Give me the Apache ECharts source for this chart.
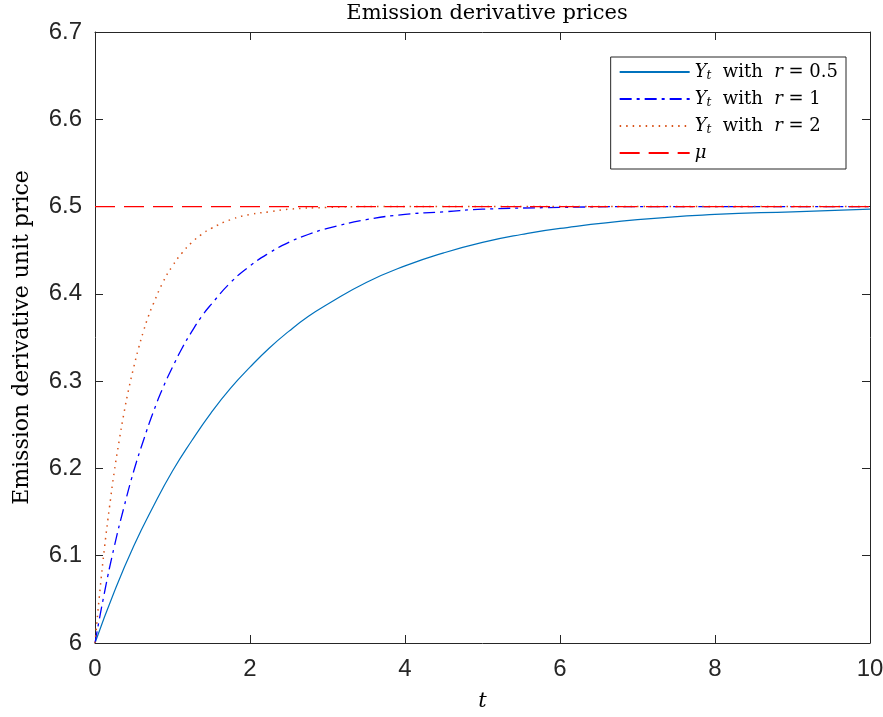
<!DOCTYPE html>
<html>
<head>
<meta charset="utf-8">
<script src="https://cdn.jsdelivr.net/npm/echarts@6/dist/echarts.min.js"></script>
<style>
html, body { margin: 0; padding: 0; background: #fff; }
#main { width: 883px; height: 717px; }
</style>
</head>
<body>
<div id="main"></div>
<script>
// values
var t05 = [0, 0.25, 0.5, 0.75, 1, 1.25, 1.5, 1.75, 2, 2.25, 2.5, 2.75, 3, 3.5, 4, 4.5, 5, 5.5, 6, 7, 8, 9, 10];
var y05 = [6.0, 6.059, 6.111, 6.156, 6.197, 6.232, 6.264, 6.292, 6.316, 6.338, 6.357, 6.374, 6.388, 6.413, 6.432, 6.447, 6.459, 6.468, 6.475, 6.485, 6.491, 6.494, 6.497];
var t1 = [0, 0.125, 0.25, 0.375, 0.5, 0.625, 0.75, 0.875, 1, 1.125, 1.25, 1.375, 1.5, 1.75, 2, 2.25, 2.5, 2.75, 3, 3.5, 4, 4.5, 5, 6, 7, 10];
var y1 = [6.0, 6.059, 6.111, 6.156, 6.197, 6.232, 6.264, 6.292, 6.316, 6.338, 6.357, 6.374, 6.388, 6.413, 6.432, 6.447, 6.459, 6.468, 6.475, 6.485, 6.491, 6.494, 6.497, 6.499, 6.5, 6.5];
var t2 = [0, 0.0625, 0.125, 0.1875, 0.25, 0.3125, 0.375, 0.4375, 0.5, 0.5625, 0.625, 0.6875, 0.75, 0.875, 1, 1.125, 1.25, 1.375, 1.5, 1.75, 2, 2.25, 2.5, 3, 3.5, 10];
var y2 = [6.0, 6.059, 6.111, 6.156, 6.197, 6.232, 6.264, 6.292, 6.316, 6.338, 6.357, 6.374, 6.388, 6.413, 6.432, 6.447, 6.459, 6.468, 6.475, 6.485, 6.491, 6.494, 6.497, 6.499, 6.5, 6.5];
var tMu = [0, 10];
var yMu = [6.5, 6.5];
var names = ['r05', 'r1', 'r2', 'mu'];
var labels = {
    r05: '{i|Y}{s|t}  with  {i|r} = 0.5',
    r1: '{i|Y}{s|t}  with  {i|r} = 1',
    r2: '{i|Y}{s|t}  with  {i|r} = 2',
    mu: '{i|μ}'
};

function pairs(xs, ys) {
    return xs.map(function (x, i) { return [x, ys[i]]; });
}

var serif = 'DejaVu Serif';
var sans = 'Liberation Sans';
var chart = echarts.init(document.getElementById('main'));

var axisBase = {
    axisLine: { show: true, onZero: false, lineStyle: { color: '#262626', width: 1 } },
    axisTick: { show: true, inside: true, length: 8, lineStyle: { color: '#262626' } },
    splitLine: { show: false }
};

function axis(extra) {
    return Object.assign({}, axisBase, extra);
}

chart.setOption({
    animation: false,
    title: {
        text: 'Emission derivative prices',
        left: 482, top: -2, textAlign: 'center',
        textStyle: { fontFamily: serif, fontWeight: 'normal', fontSize: 21, color: '#000' }
    },
    grid: { left: 95, right: 13, top: 32, bottom: 74, outerBoundsMode: 'none' },
    legend: {
        data: names,
        orient: 'vertical',
        right: 37, top: 57,
        padding: [6, 8, 7, 8],
        itemGap: 8,
        itemWidth: 70, itemHeight: 19,
        itemStyle: { opacity: 0 },
        borderColor: '#262626', borderWidth: 1, backgroundColor: '#fff',
        formatter: function (n) { return labels[n]; },
        textStyle: {
            fontFamily: serif, fontSize: 18, color: '#000',
            rich: {
                i: { fontFamily: serif, fontStyle: 'italic', fontSize: 18 },
                s: { fontFamily: serif, fontStyle: 'italic', fontSize: 12, verticalAlign: 'bottom', padding: [8, 0, 0, 0] }
            }
        }
    },
    xAxis: [
        axis({
            type: 'value', min: 0, max: 10, interval: 2, position: 'bottom',
            name: 't', nameLocation: 'middle', nameGap: 48,
            nameTextStyle: { fontFamily: serif, fontStyle: 'italic', fontSize: 21, color: '#000' },
            axisLabel: { fontFamily: sans, fontSize: 24, color: '#262626', margin: 14 }
        }),
        axis({
            type: 'value', min: 0, max: 10, interval: 2, position: 'top',
            axisLabel: { show: false }
        })
    ],
    yAxis: [
        axis({
            type: 'value', min: 6, max: 6.7, interval: 0.1, position: 'left',
            name: 'Emission derivative unit price', nameLocation: 'middle', nameGap: 62,
            nameTextStyle: { fontFamily: serif, fontSize: 22, color: '#000' },
            axisLabel: {
                fontFamily: sans, fontSize: 24, color: '#262626', margin: 13,
                formatter: function (v) { return v === 6 ? '6' : v.toFixed(1); }
            }
        }),
        axis({
            type: 'value', min: 6, max: 6.7, interval: 0.1, position: 'right',
            axisLabel: { show: false }
        })
    ],
    series: [
        {
            name: 'r05', type: 'line', smooth: true, symbol: 'none',
            data: pairs(t05, y05),
            itemStyle: { color: '#0072bd' },
            lineStyle: { color: '#0072bd', width: 1.2, type: 'solid' }
        },
        {
            name: 'r1', type: 'line', smooth: true, symbol: 'none',
            data: pairs(t1, y1),
            itemStyle: { color: '#0000ff' },
            lineStyle: { color: '#0000ff', width: 1.3, type: [12, 5, 3, 5] }
        },
        {
            name: 'r2', type: 'line', smooth: true, symbol: 'none',
            data: pairs(t2, y2),
            itemStyle: { color: '#d95319' },
            lineStyle: { color: '#d95319', width: 1.5, type: [1.5, 5] }
        },
        {
            name: 'mu', type: 'line', symbol: 'none',
            data: pairs(tMu, yMu),
            itemStyle: { color: '#ff0000' },
            lineStyle: { color: '#ff0000', width: 1.3, type: [20, 9] }
        }
    ]
});
</script>
</body>
</html>
